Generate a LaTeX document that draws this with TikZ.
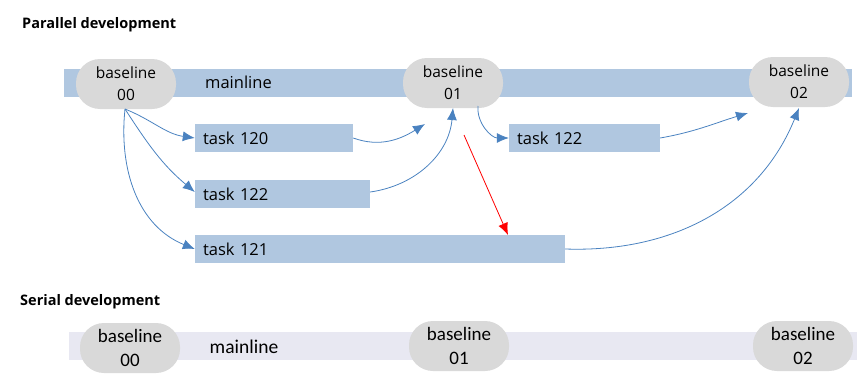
\documentclass[tikz,border=0pt]{standalone}
\usepackage{fontspec}
\setmainfont{Open Sans}
\newfontfamily\serialfont{Carlito}
\usetikzlibrary{arrows.meta}
\definecolor{barblue}{RGB}{176,199,224}
\definecolor{bargray}{RGB}{232,232,242}
\definecolor{ovalgray}{RGB}{217,217,217}
\definecolor{arrowblue}{RGB}{74,130,192}
\tikzset{
  bar/.style={fill=#1, draw=none, inner sep=0pt, minimum height=28pt},
  oval/.style={fill=ovalgray, draw=none, rounded corners=24pt, minimum width=100pt, minimum height=50pt, inner sep=0pt, align=center, font=\fontsize{15.5}{22}\selectfont},
  soval/.style={oval, font=\serialfont\fontsize{19}{24}\selectfont},
  task/.style={fill=barblue, draw=none, minimum height=28pt, inner xsep=8pt, inner ysep=0pt, align=left, font=\fontsize{16.5}{18}\selectfont},
  title/.style={anchor=west, inner sep=0pt, font=\bfseries\fontsize{14.5}{17}\selectfont},
  flow/.style={draw=arrowblue, line width=0.8pt, -{Latex[length=12pt,width=10pt]}},
  redflow/.style={draw=red, line width=0.8pt, -{Latex[length=12pt,width=10pt]}},
}
\begin{document}
\begin{tikzpicture}[x=1pt,y=1pt]
\useasboundingbox (0,0) rectangle (868,-375);
% ---------- Parallel ----------
\node[title] (ptitle) at (22,-25) {Parallel development};
\node[bar=barblue, minimum width=788pt] (pbar) at (458,-83) {};
\node[inner sep=0pt, font=\fontsize{16.5}{19}\selectfont] (pmain) at (238.5,-82) {mainline};
\node[oval] (b00) at (126,-84) {baseline\\00};
\node[oval] (b01) at (453,-83) {baseline\\01};
\node[oval] (b02) at (799,-82) {baseline\\02};
\node[task, text width=142pt] (t120) at (274,-138) {task 120};
\node[task, text width=159pt] (t122) at (282.5,-194) {task 122};
\node[task, text width=354pt] (t121) at (380,-249) {task 121};
\node[task, text width=135pt] (t122b) at (584.5,-138) {task 122};
% free ends
\coordinate (s00) at (125,-109);
\coordinate (e120) at (425,-124);
\coordinate (e122) at (453,-108);
\coordinate (s01) at (478,-106);
\coordinate (e122b) at (748,-113);
\coordinate (e121) at (799,-108);
\coordinate (rs) at (464,-135);
\coordinate (re) at (508,-235);
\draw[flow] (s00) to[out=-22, in=172] (t120.west);
\draw[flow] (s00) to[out=-57, in=140] ([yshift=2pt]t122.west);
\draw[flow] (s00) to[out=-96, in=158] (t121.west);
\draw[flow] (t120.east) to[out=-20, in=-148] (e120);
\draw[flow] ([yshift=2pt]t122.east) to[out=8, in=-95] (e122);
\draw[flow] (s01) to[out=-95, in=180] (t122b.west);
\draw[flow] (t122b.east) to[out=10, in=-163] (e122b);
\draw[flow] (t121.east) to[out=-2, in=-112] (e121);
\draw[redflow] (rs) -- (re);
% ---------- Serial ----------
\node[title] (stitle) at (20,-302) {Serial development};
\node[bar=bargray, minimum width=788pt] (sbar) at (463,-345.5) {};
\node[inner sep=0pt, font=\serialfont\fontsize{19.5}{23}\selectfont] (smain) at (244,-347) {mainline};
\node[soval] (s0) at (130,-348) {baseline\\00};
\node[soval] (s1) at (459,-346) {baseline\\01};
\node[soval] (s2) at (803,-346) {baseline\\02};
\end{tikzpicture}
\end{document}
